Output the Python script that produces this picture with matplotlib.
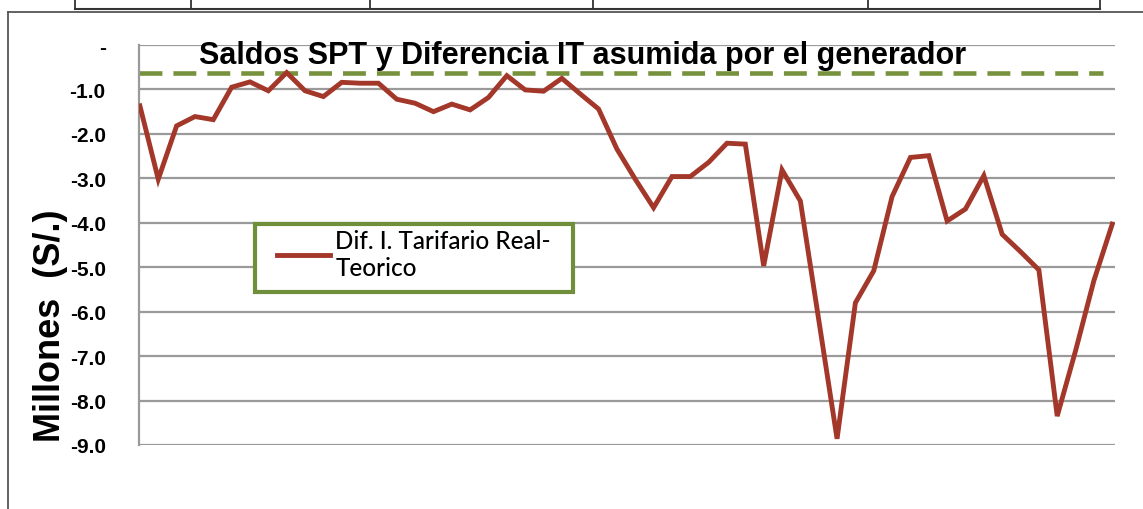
import numpy as np
import matplotlib
matplotlib.use("Agg")
import matplotlib.pyplot as plt
from matplotlib.lines import Line2D
from matplotlib.patches import Rectangle

# monthly balance (millions S/.)
saldo = [-1.37, -3.02, -1.82, -1.61, -1.68, -0.95, -0.83, -1.03, -0.62, -1.03,
         -1.16, -0.84, -0.86, -0.86, -1.22, -1.31, -1.50, -1.33, -1.46, -1.18,
         -0.69, -1.01, -1.04, -0.75, -1.10, -1.44, -2.34, -3.02, -3.66, -2.96,
         -2.96, -2.64, -2.21, -2.23, -4.97, -2.81, -3.51, -6.18, -8.86, -5.80,
         -5.08, -3.41, -2.53, -2.49, -3.96, -3.69, -2.94, -4.26, -4.65, -5.06,
         -8.35, -6.88, -5.30, -4.03]
nivel_it = -0.63
yticks = [0, -1, -2, -3, -4, -5, -6, -7, -8, -9]
ytick_labels = ['-', '-1.0', '-2.0', '-3.0', '-4.0', '-5.0', '-6.0', '-7.0', '-8.0', '-9.0']
titulo = 'Saldos SPT y Diferencia IT asumida por el generador'
leyenda = 'Dif. I. Tarifario Real-\nTeorico'
ylabel = 'Millones  (S/.)'

W, H = 1143, 510
fig = plt.figure(figsize=(W / 100, H / 100), dpi=100)
ax = fig.add_axes([139 / W, 1 - 446 / H, 976 / W, 400 / H])

x = np.arange(len(saldo))
ax.plot(x, saldo, color='#a3372a', lw=3.5, solid_joinstyle='miter', label=leyenda, zorder=3)
ax.plot([-0.05, 52.5], [nivel_it, nivel_it], color='#76923c', lw=3.3,
        dashes=(5, 2.4), zorder=2)

ax.set_xlim(-0.05, 53.15)
ax.set_ylim(-9, 0)
ax.set_yticks(yticks)
ax.set_yticklabels(ytick_labels)
ax.set_xticks([])
ax.tick_params(axis='y', length=0, pad=24)
for lab in ax.get_yticklabels():
    lab.set_fontweight('bold')
    lab.set_fontsize(15)
    lab.set_family(['Liberation Sans Narrow', 'Liberation Sans', 'DejaVu Sans'])
ax.grid(axis='y', color='#9a9a9a', lw=1.6)
for s in ['top', 'right', 'bottom']:
    ax.spines[s].set_visible(False)
ax.spines['left'].set_color('#9a9a9a')
ax.spines['left'].set_linewidth(1.6)

# legend box drawn separately so its padding matches the original
box = Rectangle((255 / W, 1 - 293 / H), 318 / W, 68 / H, transform=fig.transFigure,
                facecolor='white', edgecolor='#6f8f3a', lw=3, zorder=4)
fig.add_artist(box)
leg = ax.legend(loc='upper left', bbox_to_anchor=(277 / W, 1 - 230 / H),
                bbox_transform=fig.transFigure, frameon=False,
                borderaxespad=0, borderpad=0, handlelength=2.2, handletextpad=0.2,
                prop={'family': ['Lato', 'DejaVu Sans'], 'size': 17.5, 'weight': 'medium'})
leg.set_zorder(5)
fig.add_artist(leg)

fig.text(583 / W, 1 - 56 / H, titulo, ha='center', va='center', fontsize=22,
         fontweight='bold', family=['Liberation Sans Narrow', 'Liberation Sans', 'DejaVu Sans'])
fig.text(50 / W, 1 - 326 / H, ylabel, ha='center', va='center', rotation=90,
         fontsize=26, fontweight='bold',
         family=['Liberation Sans Narrow', 'Liberation Sans', 'DejaVu Sans'])

# table edge above and outer frame
fig.add_artist(Line2D([75 / W, 1100 / W], [1 - 10 / H, 1 - 10 / H], color='#333333', lw=1.5))
for xv in [75, 191, 370, 593, 868, 1100]:
    fig.add_artist(Line2D([xv / W, xv / W], [1, 1 - 10 / H], color='#333333', lw=1.3))
fig.add_artist(Line2D([8 / W, 1], [1 - 13 / H, 1 - 13 / H], color='#555555', lw=1.3))
fig.add_artist(Line2D([8 / W, 8 / W], [0, 1 - 13 / H], color='#555555', lw=1.3))

fig.savefig('out.png', dpi=100)
